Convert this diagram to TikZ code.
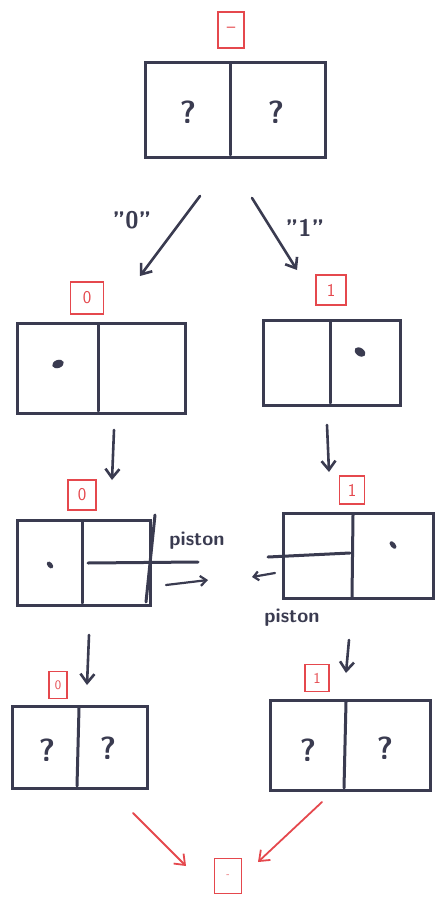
\documentclass[tikz,border=0pt]{standalone}
\usetikzlibrary{arrows.meta,shapes.geometric}
\definecolor{ink}{HTML}{3A3B50}
\definecolor{redink}{HTML}{E5484D}
\begin{document}
\begin{tikzpicture}[x=1pt,y=-1pt,
  cell/.style={draw=ink,line width=3pt,minimum width=#1,inner sep=0pt},
  rlab/.style={draw=redink,line width=1.8pt,text=redink,inner sep=0pt,font=\sffamily\fontsize{18}{18}\selectfont},
  qm/.style={text=ink,font=\sffamily\bfseries\fontsize{32}{32}\selectfont},
  hand/.style={text=ink,font=\sffamily\bfseries\fontsize{20}{20}\selectfont},
  ln/.style={draw=ink,line width=3pt,line cap=round},
  arr/.style={draw=ink,line width=2.6pt,line cap=round,-{Straight Barb[length=9pt,width=14pt]}},
  rarr/.style={draw=redink,line width=1.8pt,line cap=round,-{Straight Barb[length=9pt,width=14pt]}},
  dot/.style={fill=ink,ellipse,inner sep=0pt}
]
\useasboundingbox (0,0) rectangle (441,909);
\fill[white] (0,0) rectangle (441,909);

% top
\node[rlab,minimum width=26pt,minimum height=36pt] (lt) at (231,30) {--};
\node[cell=180pt,minimum height=95pt] (top) at (235,110) {};
\draw[ln] (230,64) -- (230,155);
\node[qm] (q1) at (188,112) {?};
\node[qm] (q2) at (276,112) {?};

\coordinate (a0s) at (200,196); \coordinate (a0e) at (140,276);
\coordinate (a1s) at (252,198); \coordinate (a1e) at (297,270);
\draw[arr] (a0s) -- (a0e);
\draw[arr] (a1s) -- (a1e);
\node[hand,font=\sffamily\bfseries\fontsize{24}{24}\selectfont] (t0) at (132,220) {"0"};
\node[hand,font=\sffamily\bfseries\fontsize{24}{24}\selectfont] (t1) at (305,228) {"1"};

% row 1
\node[rlab,minimum width=33pt,minimum height=32pt] (l0a) at (87,298) {0};
\node[rlab,minimum width=30pt,minimum height=30pt] (l1a) at (331,290) {1};
\node[cell=168pt,minimum height=90pt] (b1l) at (101,368) {};
\draw[ln] (98,325) -- (98,411);
\node[dot,minimum width=12pt,minimum height=8pt,rotate=20] (d1l) at (58,364) {};
\node[cell=137pt,minimum height=85pt] (b1r) at (331.5,362.5) {};
\draw[ln] (330,322) -- (330,403);
\node[dot,minimum width=12pt,minimum height=8pt,rotate=-35] (d1r) at (360,352) {};

\coordinate (a2s) at (114,430); \coordinate (a2e) at (112,480);
\coordinate (a3s) at (327,425); \coordinate (a3e) at (329,472);
\draw[arr] (a2s) -- (a2e);
\draw[arr] (a3s) -- (a3e);

% row 2
\node[rlab,minimum width=28pt,minimum height=30pt] (l0b) at (82,495) {0};
\node[rlab,minimum width=25pt,minimum height=28pt] (l1b) at (352,490) {1};
\node[cell=133pt,minimum height=85pt] (b2l) at (83.5,562.5) {};
\draw[ln] (82,522) -- (82,603);
\draw[ln] (155,515) -- (146,602);
\draw[ln] (88,563) -- (198,562);
\node[dot,minimum width=8pt,minimum height=5pt,rotate=-50] (d2l) at (50,565) {};
\node[hand] (p1) at (197,541) {piston};
\coordinate (a4s) at (166,585); \coordinate (a4e) at (208,580);
\draw[arr,line width=2.2pt,-{Straight Barb[length=6pt,width=10pt]}] (a4s) -- (a4e);

\node[cell=150pt,minimum height=85pt] (b2r) at (358,555.5) {};
\draw[ln] (353,515) -- (352,598);
\draw[ln] (268,557) -- (350,553);
\node[dot,minimum width=9pt,minimum height=5pt,rotate=-50] (d2r) at (393,545) {};
\node[hand] (p2) at (292,618) {piston};
\coordinate (a5s) at (275,573); \coordinate (a5e) at (252,577);
\draw[arr,line width=2.2pt,-{Straight Barb[length=5pt,width=9pt]}] (a5s) -- (a5e);

\coordinate (a6s) at (89,635); \coordinate (a6e) at (87,685);
\coordinate (a7s) at (349,640); \coordinate (a7e) at (346,673);
\draw[arr] (a6s) -- (a6e);
\draw[arr] (a7s) -- (a7e);

% row 3
\node[rlab,minimum width=18pt,minimum height=27pt,font=\sffamily\fontsize{13}{13}\selectfont] (l0c) at (58,685) {0};
\node[rlab,minimum width=24pt,minimum height=27pt,font=\sffamily\fontsize{15}{15}\selectfont] (l1c) at (317,678) {1};
\node[cell=135pt,minimum height=82pt] (b3l) at (79.5,747) {};
\draw[ln] (79,708) -- (77,786);
\node[qm] (q3) at (47,750) {?};
\node[qm] (q4) at (108,748) {?};
\node[cell=160pt,minimum height=90pt] (b3r) at (350,745) {};
\draw[ln] (346,702) -- (344,788);
\node[qm] (q5) at (308,750) {?};
\node[qm] (q6) at (385,748) {?};

% bottom
\node[rlab,minimum width=27pt,minimum height=35pt,font=\sffamily\fontsize{10}{10}\selectfont] (lb) at (228,876) {-};
\coordinate (r0s) at (133,813); \coordinate (r1s) at (322,802);
\draw[rarr] (r0s) -- (186,866);
\draw[rarr] (r1s) -- (258,862);
\end{tikzpicture}
\end{document}
